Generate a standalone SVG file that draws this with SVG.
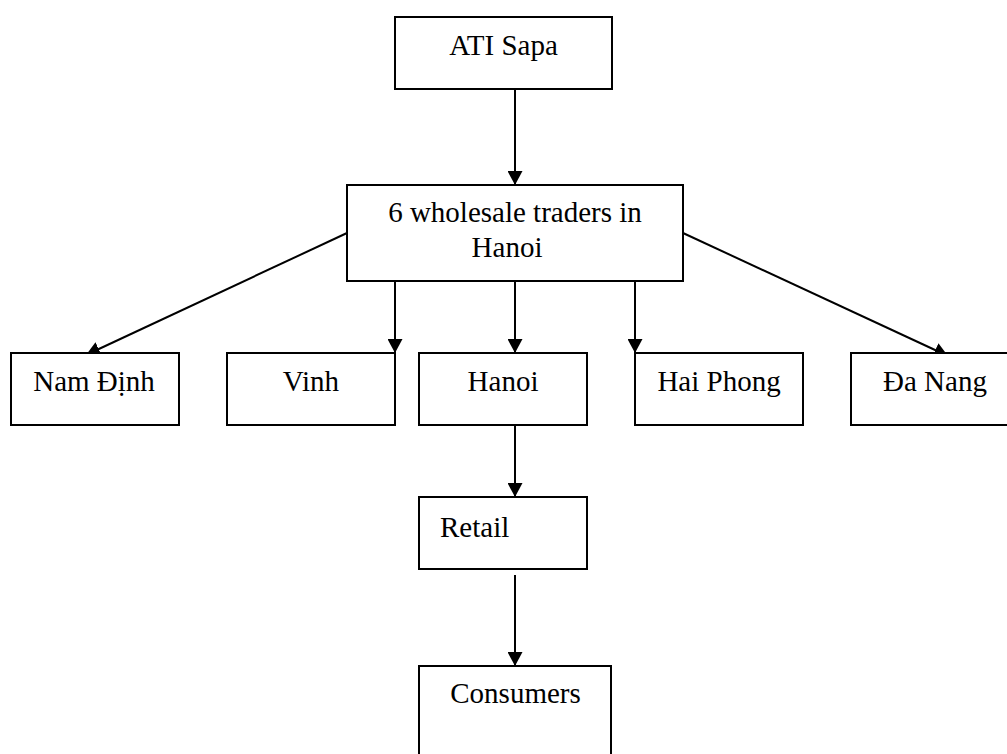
<svg xmlns="http://www.w3.org/2000/svg" width="1007" height="754" viewBox="0 0 1007 754">
<style>
rect.box{fill:#fff;stroke:#000;stroke-width:2}
text{font-family:"Liberation Serif","Times New Roman",serif;font-size:29px;fill:#000}
.c{text-anchor:middle}
line.conn{stroke:#000;stroke-width:2;marker-end:url(#arr)}
</style>
<defs>
<marker id="arr" viewBox="0 0 14 15" refX="14" refY="7.5" markerWidth="14" markerHeight="15" markerUnits="userSpaceOnUse" orient="auto">
<path d="M0,0 L14,7.5 L0,15 Z" fill="#000"/>
</marker>
</defs>
<rect width="1007" height="754" fill="#fff"/>
<g id="connectors">
<line class="conn" x1="515" y1="89" x2="515" y2="185"/>
<line class="conn" x1="347" y1="233" x2="86" y2="355"/>
<line class="conn" x1="395" y1="281" x2="395" y2="353"/>
<line class="conn" x1="515" y1="281" x2="515" y2="353"/>
<line class="conn" x1="635" y1="281" x2="635" y2="353"/>
<line class="conn" x1="683" y1="233" x2="948" y2="356"/>
<line class="conn" x1="515" y1="425" x2="515" y2="497"/>
<line class="conn" x1="515" y1="575" x2="515" y2="666"/>
</g>
<g id="ati-sapa"><rect class="box" x="395" y="17" width="217" height="72"/><text class="c" x="503.5" y="55">ATI Sapa</text></g>
<g id="wholesale"><rect class="box" x="347" y="185" width="336" height="96"/><text class="c" x="515" y="222">6 wholesale traders in</text><text class="c" x="507" y="257">Hanoi</text></g>
<g id="nam-dinh"><rect class="box" x="11" y="353" width="168" height="72"/><text class="c" x="94" y="391">Nam Định</text></g>
<g id="vinh"><rect class="box" x="227" y="353" width="168" height="72"/><text class="c" x="311" y="391">Vinh</text></g>
<g id="hanoi"><rect class="box" x="419" y="353" width="168" height="72"/><text class="c" x="503" y="391">Hanoi</text></g>
<g id="hai-phong"><rect class="box" x="635" y="353" width="168" height="72"/><text class="c" x="719" y="391">Hai Phong</text></g>
<g id="da-nang"><rect class="box" x="851" y="353" width="168" height="72"/><text class="c" x="935" y="391">Đa Nang</text></g>
<g id="retail"><rect class="box" x="419" y="497" width="168" height="72"/><text x="440" y="537">Retail</text></g>
<g id="consumers"><rect class="box" x="419" y="666" width="192" height="100"/><text class="c" x="515.5" y="703">Consumers</text></g>
</svg>
